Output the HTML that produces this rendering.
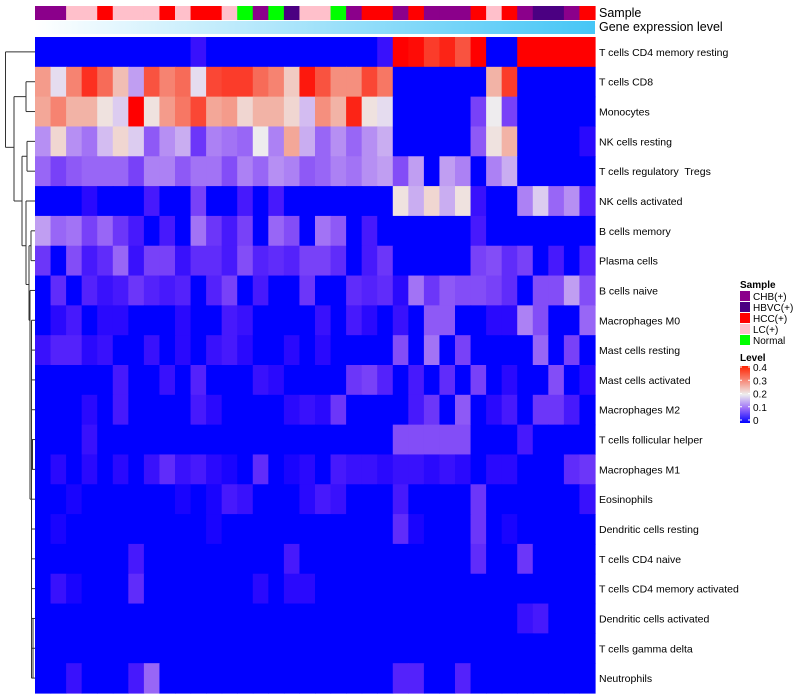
<!DOCTYPE html>
<html><head><meta charset="utf-8">
<style>
body{margin:0;background:#fff;}
svg{display:block;font-family:"Liberation Sans",sans-serif;}
text{white-space:pre;}
</style></head>
<body>
<svg id="chart" width="800" height="700" xmlns="http://www.w3.org/2000/svg">
<defs>
<linearGradient id="geneGrad" x1="0" x2="1" y1="0" y2="0">
<stop offset="0" stop-color="#ffffff"/><stop offset="1" stop-color="#46c6f6"/>
</linearGradient>
<linearGradient id="levelGrad" x1="0" x2="0" y1="1" y2="0">
<stop offset="0" stop-color="#0000ff"/><stop offset="0.25" stop-color="#9a6cf8"/><stop offset="0.5" stop-color="#eeeeee"/><stop offset="1" stop-color="#ff2200"/>
</linearGradient>
</defs>
<g id="dendro"></g>
<g id="annot"></g>
<g id="cells"></g>
<g id="labels"></g>
<text x="599" y="17" font-size="12.5" fill="#000">Sample</text>
<text x="599" y="31" font-size="12.5" fill="#000">Gene expression level</text>
<g>
<text x="740" y="288" font-size="10" font-weight="bold">Sample</text>
<g id="sampleLegend"></g>
</g>
<g>
<text x="740" y="361" font-size="10" font-weight="bold">Level</text>
<rect x="740" y="366" width="10" height="57" fill="url(#levelGrad)"/>
<g id="levelTicks"></g>
</g>
</svg>
<script>
const rowNames=["T cells CD4 memory resting","T cells CD8","Monocytes","NK cells resting","T cells regulatory  Tregs","NK cells activated","B cells memory","Plasma cells","B cells naive","Macrophages M0","Mast cells resting","Mast cells activated","Macrophages M2","T cells follicular helper","Macrophages M1","Eosinophils","Dendritic cells resting","T cells CD4 naive","T cells CD4 memory activated","Dendritic cells activated","T cells gamma delta","Neutrophils"];
const sampleGroups=["CHB(+)","CHB(+)","LC(+)","LC(+)","HCC(+)","LC(+)","LC(+)","LC(+)","HCC(+)","LC(+)","HCC(+)","HCC(+)","LC(+)","Normal","CHB(+)","Normal","HBVC(+)","LC(+)","LC(+)","Normal","CHB(+)","HCC(+)","HCC(+)","CHB(+)","HCC(+)","CHB(+)","CHB(+)","CHB(+)","HCC(+)","LC(+)","HCC(+)","CHB(+)","HBVC(+)","HBVC(+)","CHB(+)","HCC(+)"];
const groupNames=["CHB(+)","HBVC(+)","HCC(+)","LC(+)","Normal"];
const groupColors=["#8b008b","#4b0082","#ff0000","#ffc0cb","#00ff00"];
const levelTicks=[0,0.1,0.2,0.3,0.4];
// values x100
const v0=[0,0,0,0,0,0,0,0,0,0,3,0,0,0,0,0,0,0,0,0,0,0,3,40,39,35,37,33,40,0,0,40,40,40,40,40];
const v1=[27,19,29,36,31,24,15,33,29,31,19,34,35,35,31,29,23,38,33,28,28,34,30,0,0,0,0,0,0,25,35,0,0,0,0,0];
const v2=[26,29,25,25,21,18,40,21,27,30,34,26,27,22,25,25,22,17,28,25,37,21,19,0,0,0,0,0,8,20,8,0,0,0,0,0];
const v3=[14,22,14,12,17,22,18,10,14,16,7,13,12,11,20,13,26,16,11,14,11,14,16,0,0,0,0,0,10,21,25,0,0,0,0,2];
const v4=[11,8,10,11,11,11,8,13,13,10,12,12,9,13,11,14,13,10,11,13,12,14,15,9,15,0,15,13,0,13,16,0,0,0,0,0];
const v5=[0,0,0,2,0,0,0,4,0,0,8,0,0,4,0,4,0,0,0,0,0,0,0,21,16,22,16,21,3,0,0,13,18,11,14,5];
const v6=[15,11,12,8,11,7,4,0,4,0,12,7,4,8,0,11,9,0,12,10,0,4,0,0,0,0,0,0,4,0,0,0,0,0,0,0];
const v7=[7,0,9,4,6,11,3,8,8,3,6,6,4,9,5,6,5,8,8,6,0,4,7,0,0,0,0,0,8,9,6,8,0,4,0,5];
const v8=[0,6,0,5,3,4,7,5,4,5,0,5,8,0,4,0,0,7,0,0,6,5,6,2,12,7,10,9,9,8,6,0,9,9,15,9];
const v9=[0,2,4,0,2,2,0,0,0,2,0,0,4,3,0,0,0,0,3,0,4,2,0,3,0,10,10,0,0,2,2,13,9,0,0,11];
const v10=[3,5,5,2,3,0,0,3,0,2,0,3,4,2,0,0,2,0,2,0,0,0,0,9,0,12,0,8,0,0,0,0,11,0,8,0];
const v11=[0,0,0,0,0,4,0,0,3,0,5,0,0,0,3,2,0,0,0,0,7,8,5,0,4,0,6,0,8,0,2,0,0,9,0,2];
const v12=[0,0,0,2,0,4,0,0,0,0,4,2,0,0,0,0,2,3,2,7,0,0,0,0,4,7,0,10,0,2,4,0,7,7,4,0];
const v13=[0,0,0,3,0,0,0,0,0,0,0,0,0,0,0,0,0,0,0,0,0,0,0,9,9,9,9,9,0,0,0,4,0,0,0,0];
const v14=[0,2,0,2,0,2,0,3,6,3,4,2,1,0,6,0,1,2,0,4,3,3,2,3,3,2,3,2,0,2,2,0,0,0,6,7];
const v15=[0,0,1,0,0,0,0,0,0,1,0,1,4,3,0,0,0,2,4,3,0,0,0,4,0,0,0,0,7,0,0,0,0,0,0,3];
const v16=[0,1,0,0,0,0,0,0,0,0,0,1,0,0,0,0,0,0,0,0,0,0,0,6,1,0,0,0,7,0,1,0,0,0,0,0];
const v17=[0,0,0,0,0,0,4,0,0,0,0,0,0,0,0,0,4,0,0,0,0,0,0,0,0,0,0,0,6,0,0,7,0,0,0,0];
const v18=[0,3,1,0,0,0,6,0,0,0,0,0,0,0,2,0,2,2,0,0,0,0,0,0,0,0,0,0,0,0,0,0,0,0,0,0];
const v19=[0,0,0,0,0,0,0,0,0,0,0,0,0,0,0,0,0,0,0,0,0,0,0,0,0,0,0,0,0,0,0,3,4,0,0,0];
const v20=[0,0,0,0,0,0,0,0,0,0,0,0,0,0,0,0,0,0,0,0,0,0,0,0,0,0,0,0,0,0,0,0,0,0,0,0];
const v21=[0,0,3,0,0,0,4,11,0,0,0,0,0,0,0,0,0,0,0,0,0,0,0,5,5,0,0,5,0,0,0,0,0,0,0,0];
const values=[v0,v1,v2,v3,v4,v5,v6,v7,v8,v9,v10,v11,v12,v13,v14,v15,v16,v17,v18,v19,v20,v21];

const NS="http://www.w3.org/2000/svg";
const X0=35,X1=595,Y0=37,Y1=693;
const nCol=sampleGroups.length,nRow=rowNames.length;
const cw=(X1-X0)/nCol,rh=(Y1-Y0)/nRow;
const xCol=i=>X0+i*cw;
const yRow=j=>Y0+j*rh;
function color(v){ // v in 0..0.4
  v=Math.max(0,Math.min(0.4,v));
  if(v<=0.2){const t=v/0.2;return `rgb(${Math.round(238*Math.pow(t,0.75))},${Math.round(236*Math.pow(t,1.4))},${255-Math.round(17*t)})`;}
  const t=(v-0.2)/0.2;return `rgb(${Math.round(238+17*t)},${Math.round(238*(1-t))},${Math.round(238*Math.pow(1-t,1.25))})`;
}
function mk(tag,attrs,parent){const e=document.createElementNS(NS,tag);for(const k in attrs)e.setAttribute(k,attrs[k]);parent.appendChild(e);return e;}
const cells=document.getElementById('cells');
values.forEach((row,j)=>row.forEach((val,i)=>{
  const r=mk('rect',{x:xCol(i),y:yRow(j),width:cw+0.6,height:rh+0.6,fill:color(val/100)},cells);
  
  
}));
const annot=document.getElementById('annot');
sampleGroups.forEach((g,i)=>{
  const r=mk('rect',{x:xCol(i),y:6,width:cw+0.6,height:14,fill:groupColors[groupNames.indexOf(g)]},annot);
  
  
});
const gb=mk('rect',{x:X0,y:21,width:X1-X0,height:13,fill:'url(#geneGrad)'},annot);


const labels=document.getElementById('labels');
rowNames.forEach((n,j)=>{
  const t=mk('text',{x:599,y:yRow(j)+rh/2+4,'font-size':'10.5',fill:'#000'},labels);
  t.setAttribute('xml:space','preserve');
  t.textContent=n;
  
  
});
const sl=document.getElementById('sampleLegend');
groupNames.forEach((g,k)=>{
  const r=mk('rect',{x:740,y:291+k*11,width:10,height:10,fill:groupColors[k]},sl);
  
  
  const t=mk('text',{x:753,y:300+k*11,'font-size':'10'},sl);
  t.textContent=g;
  
  
});
const lt=document.getElementById('levelTicks');
levelTicks.forEach(v=>{
  const y=420-v/0.4*53;
  mk('line',{x1:740,x2:742,y1:y,y2:y,stroke:'#fff','stroke-width':1},lt);
  mk('line',{x1:748,x2:750,y1:y,y2:y,stroke:'#fff','stroke-width':1},lt);
  const t=mk('text',{x:753,y:y+4,'font-size':'10'},lt);
  t.textContent=String(v);
  
  
});
// dendrogram (approximate)
const d=document.getElementById('dendro');
const yc=u=>Y0+(u+0.5)*rh;
function seg(x1,y1,x2,y2){mk('line',{x1,y1,x2,y2,stroke:'#333','stroke-width':1},d);}
seg(5.5,yc(0),5.5,yc(3.2)); seg(5.5,yc(0),35,yc(0)); seg(5.5,yc(3.2),14,yc(3.2));
seg(14,yc(1.5),14,yc(5)); seg(14,yc(1.5),26,yc(1.5)); seg(26,yc(1),26,yc(2)); seg(26,yc(1),35,yc(1)); seg(26,yc(2),35,yc(2));
seg(14,yc(5),22,yc(5)); seg(22,yc(3.5),22,yc(6.5)); seg(22,yc(3.5),27,yc(3.5)); seg(27,yc(3),27,yc(4)); seg(27,yc(3),35,yc(3)); seg(27,yc(4),35,yc(4));
seg(22,yc(6.5),26,yc(6.5)); seg(26,yc(5),26,yc(7.8)); seg(26,yc(5),35,yc(5));
seg(26,yc(7.8),29,yc(7.8)); seg(29,yc(6.5),29,yc(9)); seg(29,yc(6.5),31,yc(6.5)); seg(31,yc(6),31,yc(7)); seg(31,yc(6),35,yc(6)); seg(31,yc(7),35,yc(7));
seg(29,yc(9),30,yc(9));
seg(30,yc(8),30,yc(15)); seg(30,yc(8),35,yc(8));
for(let k=9;k<=21;k++){seg(31.5,yc(k),35,yc(k));}
seg(31.5,yc(9),31.5,yc(21)); seg(30,yc(15),31.5,yc(15));
seg(32.5,yc(13),32.5,yc(14)); seg(33,yc(19),33,yc(21));
</script>
</body></html>
